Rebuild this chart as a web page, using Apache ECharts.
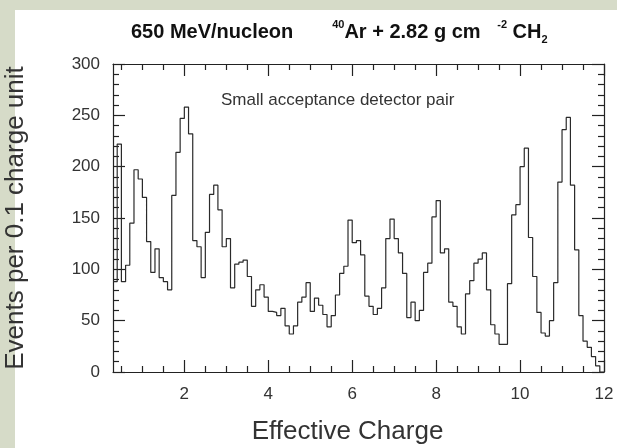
<!DOCTYPE html>
<html><head><meta charset="utf-8">
<script src="https://cdn.jsdelivr.net/npm/echarts@6/dist/echarts.min.js"></script>
<style>html,body{margin:0;padding:0;background:#d6dbc8;} #c{width:617px;height:448px;}</style>
</head><body><div id="c"></div>
<script>
// Histogram: counts per 0.1 charge-unit bin, first bin starts at 0.3
const binStart = 0.3;
const binWidth = 0.1;
const counts = [
  88, 222, 88, 104, 145, 197, 188, 170, 127, 97,
  120, 92, 88, 80, 172, 214, 247, 258, 232, 128,
  122, 92, 136, 173, 182, 158, 122, 130, 82, 105,
  107, 109, 93, 64, 80, 85, 73, 59, 58, 55,
  62, 45, 37, 45, 68, 73, 87, 59, 72, 65,
  56, 44, 55, 75, 96, 103, 148, 126, 128, 114,
  74, 64, 56, 62, 82, 130, 149, 130, 116, 96,
  53, 68, 50, 60, 97, 106, 151, 167, 116, 120,
  68, 64, 44, 37, 76, 89, 106, 110, 116, 80,
  46, 37, 27, 27, 86, 153, 163, 200, 218, 131,
  93, 58, 38, 35, 50, 87, 185, 236, 248, 182,
  119, 55, 30, 24, 15, 6, 0
];
const xMajorTicks = [2, 4, 6, 8, 10, 12];
const xMinorTicks = [0.5, 1, 1.5, 2.5, 3, 3.5, 4.5, 5, 5.5, 6.5, 7, 7.5, 8.5, 9, 9.5, 10.5, 11, 11.5];
const yMin = 0, yMax = 300, yStep = 50;
const xMin = 0.3, xMax = 12;
const titleText = '650 MeV/nucleon       {sup|40}Ar + 2.82 g cm   {sup|-2} CH{sub|2}';
const noteText = 'Small acceptance detector pair';
const xName = 'Effective Charge';
const yName = 'Events per 0.1 charge unit';

// bin edges -> step points
const points = counts.map((v, i) => [+(binStart + i * binWidth).toFixed(2), v]);
points.push([+(binStart + counts.length * binWidth).toFixed(2), 0]);

const FONT = '"Liberation Sans", Arial, Helvetica, sans-serif';
const ink = '#222';
const textCol = '#333';
const gridBox = {left: 113, top: 64, width: 491, height: 308, outerBoundsMode: 'none', containLabel: false};

const chart = echarts.init(document.getElementById('c'), null, {renderer: 'canvas'});
chart.setOption({
  animation: false,
  backgroundColor: 'transparent',
  textStyle: {fontFamily: FONT},
  graphic: [{
    type: 'rect', z: -10, silent: true,
    shape: {x: 15, y: 10, width: 620, height: 450},
    style: {fill: '#ffffff'}
  }],
  title: [{
    text: titleText, left: 126, top: 14, padding: 5,
    textStyle: {
      fontFamily: FONT, fontSize: 20, fontWeight: 'bold', color: '#111', lineHeight: 26,
      rich: {
        sup: {fontFamily: FONT, fontSize: 11, fontWeight: 'bold', color: '#111', verticalAlign: 'top', lineHeight: 26, padding: [0, 0, 10, 0]},
        sub: {fontFamily: FONT, fontSize: 11, fontWeight: 'bold', color: '#111', verticalAlign: 'bottom', lineHeight: 26, padding: [10, 0, 0, 0]}
      }
    }
  }, {
    text: noteText, left: 216, top: 87, padding: 5,
    textStyle: {fontFamily: FONT, fontSize: 17, fontWeight: 'normal', color: textCol}
  }],
  grid: [Object.assign({}, gridBox), Object.assign({}, gridBox)],
  xAxis: [{
    gridIndex: 0, type: 'value', position: 'bottom', min: xMin, max: xMax,
    axisLine: {show: true, onZero: false, lineStyle: {color: ink, width: 1.2}},
    axisTick: {show: true, inside: true, length: 12, customValues: xMajorTicks, lineStyle: {color: ink, width: 1.2}},
    axisLabel: {show: true, customValues: xMajorTicks, fontSize: 17, color: textCol, margin: 14, fontFamily: FONT},
    splitLine: {show: false},
    name: xName, nameLocation: 'middle', nameGap: 47,
    nameTextStyle: {fontSize: 26, color: textCol, fontFamily: FONT, padding: [0, 22, 0, 0]}
  }, {
    gridIndex: 0, type: 'value', position: 'top', min: xMin, max: xMax,
    axisLine: {show: true, onZero: false, lineStyle: {color: ink, width: 1.2}},
    axisTick: {show: true, inside: true, length: 12, customValues: xMajorTicks, lineStyle: {color: ink, width: 1.2}},
    axisLabel: {show: false}, splitLine: {show: false}
  }, {
    gridIndex: 1, type: 'value', position: 'bottom', min: xMin, max: xMax,
    axisLine: {show: false},
    axisTick: {show: true, inside: true, length: 6, customValues: xMinorTicks, lineStyle: {color: ink, width: 1.2}},
    axisLabel: {show: false}, splitLine: {show: false}
  }, {
    gridIndex: 1, type: 'value', position: 'top', min: xMin, max: xMax,
    axisLine: {show: false},
    axisTick: {show: true, inside: true, length: 6, customValues: xMinorTicks, lineStyle: {color: ink, width: 1.2}},
    axisLabel: {show: false}, splitLine: {show: false}
  }],
  yAxis: [{
    gridIndex: 0, type: 'value', position: 'left', min: yMin, max: yMax, interval: yStep,
    axisLine: {show: true, onZero: false, lineStyle: {color: ink, width: 1.2}},
    axisTick: {show: true, inside: true, length: 12, lineStyle: {color: ink, width: 1.2}},
    minorTick: {show: true, splitNumber: 5, length: 6, lineStyle: {color: ink, width: 1.2}},
    axisLabel: {show: true, fontSize: 17, color: textCol, margin: 13, fontFamily: FONT},
    splitLine: {show: false},
    name: yName, nameLocation: 'middle', nameGap: 84,
    nameTextStyle: {fontSize: 26, color: textCol, fontFamily: FONT}
  }, {
    gridIndex: 0, type: 'value', position: 'right', min: yMin, max: yMax, interval: yStep,
    axisLine: {show: true, onZero: false, lineStyle: {color: ink, width: 1.2}},
    axisTick: {show: true, inside: true, length: 12, lineStyle: {color: ink, width: 1.2}},
    minorTick: {show: true, splitNumber: 5, length: 6, lineStyle: {color: ink, width: 1.2}},
    axisLabel: {show: false}, splitLine: {show: false}
  }, {
    gridIndex: 1, type: 'value', min: yMin, max: yMax, show: false
  }],
  series: [{
    type: 'line', xAxisIndex: 0, yAxisIndex: 0, step: 'end',
    showSymbol: false, symbol: 'none',
    lineStyle: {color: '#2a2a2a', width: 1.2},
    data: points
  }]
});
</script></body></html>
